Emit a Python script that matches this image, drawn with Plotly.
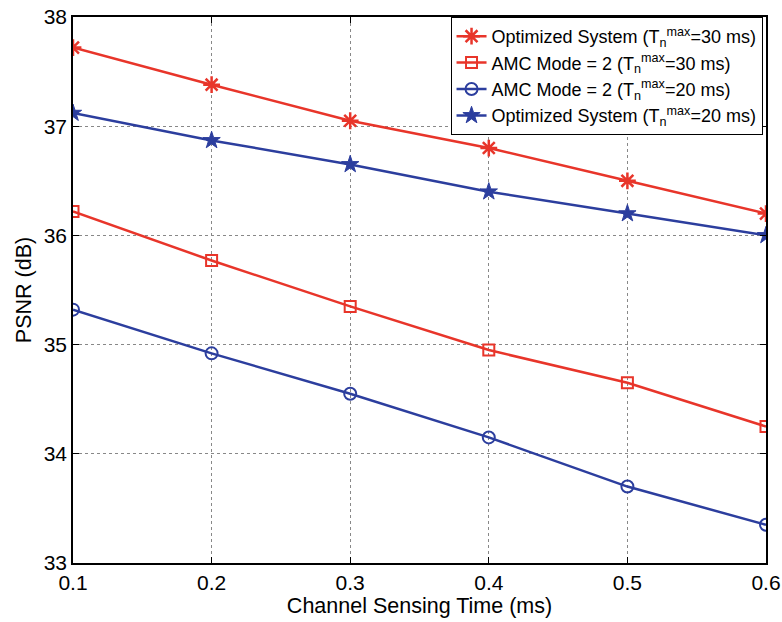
import plotly.graph_objects as go

x = [0.1, 0.2, 0.3, 0.4, 0.5, 0.6]
opt_30 = [37.72, 37.38, 37.05, 36.80, 36.50, 36.20]
amc_30 = [36.22, 35.77, 35.35, 34.95, 34.65, 34.25]
amc_20 = [35.32, 34.92, 34.55, 34.15, 33.70, 33.35]
opt_20 = [37.12, 36.87, 36.65, 36.40, 36.20, 36.00]

names = [
    "Optimized System (T<sub>n</sub><sup>max</sup>=30 ms)",
    "AMC Mode = 2 (T<sub>n</sub><sup>max</sup>=30 ms)",
    "AMC Mode = 2 (T<sub>n</sub><sup>max</sup>=20 ms)",
    "Optimized System (T<sub>n</sub><sup>max</sup>=20 ms)",
]

RED = "#e8352a"
BLUE = "#2c3e9e"
FONT = "Liberation Sans, Arial, sans-serif"

fig = go.Figure()
series = [
    (opt_30, RED, "asterisk-open", 14, 2.5),
    (amc_30, RED, "square-open", 11, 2),
    (amc_20, BLUE, "circle-open", 12, 2),
    (opt_20, BLUE, "star", 13, 1),
]
for (ys, col, sym, sz, lw), nm in zip(series, names):
    fig.add_trace(go.Scatter(
        x=x, y=ys, name=nm, mode="lines+markers",
        line=dict(color=col, width=2.5),
        marker=dict(symbol=sym, size=sz, color=col,
                    line=dict(color=col, width=lw)),
    ))

axis_common = dict(
    showline=True, linecolor="black", linewidth=1.5, mirror="ticks",
    ticks="inside", ticklen=6, tickcolor="black",
    showgrid=True, gridcolor="#888888", griddash="dot", gridwidth=1,
    zeroline=False, automargin=False,
    tickfont=dict(family=FONT, size=21, color="black"),
)

fig.update_xaxes(range=[0.1, 0.6], tickvals=x, ticktext=["0.1", "0.2", "0.3", "0.4", "0.5", "0.6"],
                 title=dict(text="Channel Sensing Time (ms)", standoff=2,
                            font=dict(family=FONT, size=21.5, color="black")),
                 **axis_common)
fig.update_yaxes(range=[33, 38], tickvals=[33, 34, 35, 36, 37, 38],
                 title=dict(text="PSNR (dB)", standoff=6,
                            font=dict(family=FONT, size=21.5, color="black")),
                 **axis_common)

fig.update_layout(
    width=782, height=622,
    margin=dict(l=73, r=16, t=17, b=59),
    plot_bgcolor="white", paper_bgcolor="white",
    font=dict(family=FONT, color="black"),
    legend=dict(
        x=0.995, y=1.0, xanchor="right", yanchor="top",
        bgcolor="white", bordercolor="black", borderwidth=1,
        font=dict(size=18, color="black"),
        tracegroupgap=0, itemwidth=30,
    ),
)

fig.write_html("out.html")
